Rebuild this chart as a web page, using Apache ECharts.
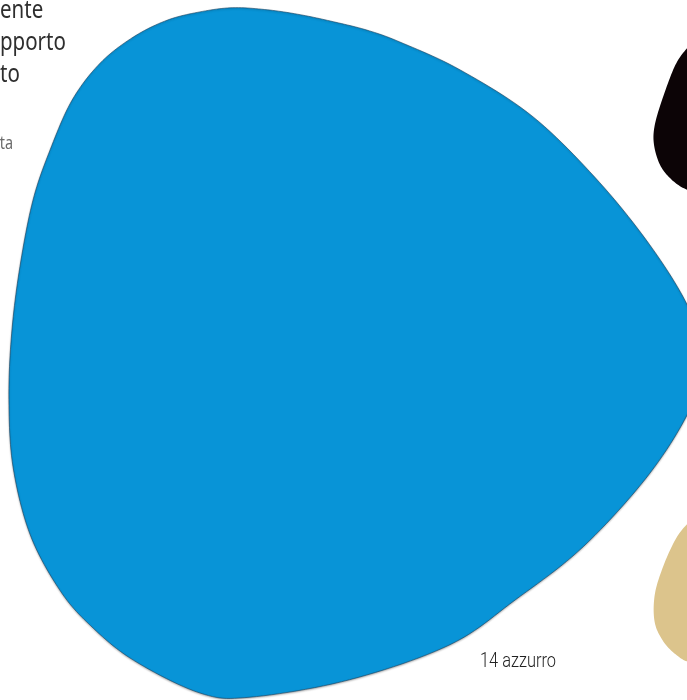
<!DOCTYPE html>
<html>
<head>
<meta charset="utf-8">
<script src="https://cdn.jsdelivr.net/npm/echarts@6/dist/echarts.min.js"></script>
<style>
  html, body { margin: 0; padding: 0; background: #fff; }
  #chart { width: 687px; height: 700px; }
</style>
</head>
<body>
<div id="chart"></div>
<script>
// colour swatches, outlines in page units (0-100 on both axes)
const swatchNames = ['14 azzurro', 'nero', 'sabbia'];
const swatchColors = ['#0894d7', '#0c0406', '#dcc48c'];

const azzurroX = [33.9, 38.9, 43.7, 48.5, 53.4, 58.2, 67.0, 77.6, 87.3, 95.1, 100.4, 102.3, 100.7, 94.6, 84.9, 75.0, 65.5, 50.9, 36.4, 29.1, 19.4, 13.1, 8.7, 4.4, 1.9, 1.3, 1.7, 2.9, 4.8, 7.3, 10.5, 14.6, 19.4, 24.3, 29.1];
const azzurroY = [98.9, 98.6, 97.9, 96.9, 95.7, 94.0, 90.0, 83.3, 73.9, 64.3, 55.7, 48.9, 42.1, 32.4, 21.9, 14.3, 7.9, 2.9, 0.4, 1.0, 5.7, 10.7, 15.7, 23.6, 33.3, 42.9, 52.4, 61.9, 71.4, 78.6, 85.7, 91.0, 94.7, 97.1, 98.3];

const neroX = [101.2, 100, 98.3, 96.5, 95.3, 95.2, 96.1, 97.8, 100, 103.3, 107.7, 107.7, 104.1];
const neroY = [94.0, 93.1, 90.7, 86.1, 82.1, 79.3, 76.4, 74.3, 72.9, 72.1, 75.7, 88.6, 93.6];

const sabbiaX = [101.5, 100, 98.3, 96.5, 95.3, 95.3, 96.6, 98.5, 100.4, 104.1, 107.7, 107.7, 104.1];
const sabbiaY = [26.1, 25.1, 22.9, 19.0, 15.0, 11.1, 8.3, 6.4, 5.4, 5.0, 8.6, 20.0, 25.7];

// fragments of the neighbouring text column
const sideLines = ['ente', 'pporto', 'to'];

const outlines = [[azzurroX, azzurroY], [neroX, neroY], [sabbiaX, sabbiaY]];

let myChart = echarts.init(document.getElementById('chart'));

// closed catmull-rom through the outline points, in pixel space
function closedSpline(pts) {
    let out = [];
    let n = pts.length;
    for (let i = 0; i < n; i++) {
        let p0 = pts[(i - 1 + n) % n], p1 = pts[i], p2 = pts[(i + 1) % n], p3 = pts[(i + 2) % n];
        for (let s = 0; s < 12; s++) {
            let t = s / 12, t2 = t * t, t3 = t2 * t;
            let pt = [0, 1].map(function(d) {
                return 0.5 * ((2 * p1[d]) + (-p0[d] + p2[d]) * t +
                    (2 * p0[d] - 5 * p1[d] + 4 * p2[d] - p3[d]) * t2 +
                    (-p0[d] + 3 * p1[d] - 3 * p2[d] + p3[d]) * t3);
            });
            out.push(pt);
        }
    }
    return out;
}

function blobItem(params, api) {
    let i = params.dataIndex;
    let xs = outlines[i][0], ys = outlines[i][1];
    let pts = [];
    for (let k = 0; k < xs.length; k++) {
        pts.push(api.coord([xs[k], ys[k]]));
    }
    let style = { fill: swatchColors[i] };
    if (i === 0) {
        style.stroke = 'rgba(25,65,95,0.6)';
        style.lineWidth = 1;
        style.shadowBlur = 2;
        style.shadowColor = 'rgba(0,0,0,0.3)';
        style.shadowOffsetY = 1;
    }
    return {
        type: 'polygon',
        shape: { points: closedSpline(pts) },
        style: style
    };
}

let texts = sideLines.map(function(s, k) {
    return {
        type: 'text',
        x: 0,
        y: 11 + k * 32,
        scaleX: 0.82,
        style: {
            text: s,
            font: '25px "Noto Sans"',
            fill: '#2e2e2e',
            verticalAlign: 'middle'
        }
    };
});
texts.push({
    type: 'text',
    x: 13,
    y: 144,
    scaleX: 0.8,
    style: {
        text: 'ta',
        font: '18px "Noto Sans"',
        fill: '#6a6a6a',
        align: 'right',
        verticalAlign: 'middle'
    }
});
texts.push({
    type: 'text',
    x: 480,
    y: 651,
    scaleX: 0.78,
    style: {
        text: swatchNames[0],
        font: '300 21px Roboto',
        fill: '#222'
    }
});

let option = {
    animation: false,
    graphic: texts,
    grid: { left: 0, right: 0, top: 0, bottom: 0 },
    xAxis: { type: 'value', min: 0, max: 100, show: false },
    yAxis: { type: 'value', min: 0, max: 100, show: false },
    series: [{
        type: 'custom',
        clip: false,
        renderItem: blobItem,
        data: swatchNames.map(function(n, i) { return { name: n, value: [i, 0] }; })
    }]
};
myChart.setOption(option);
</script>
</body>
</html>
